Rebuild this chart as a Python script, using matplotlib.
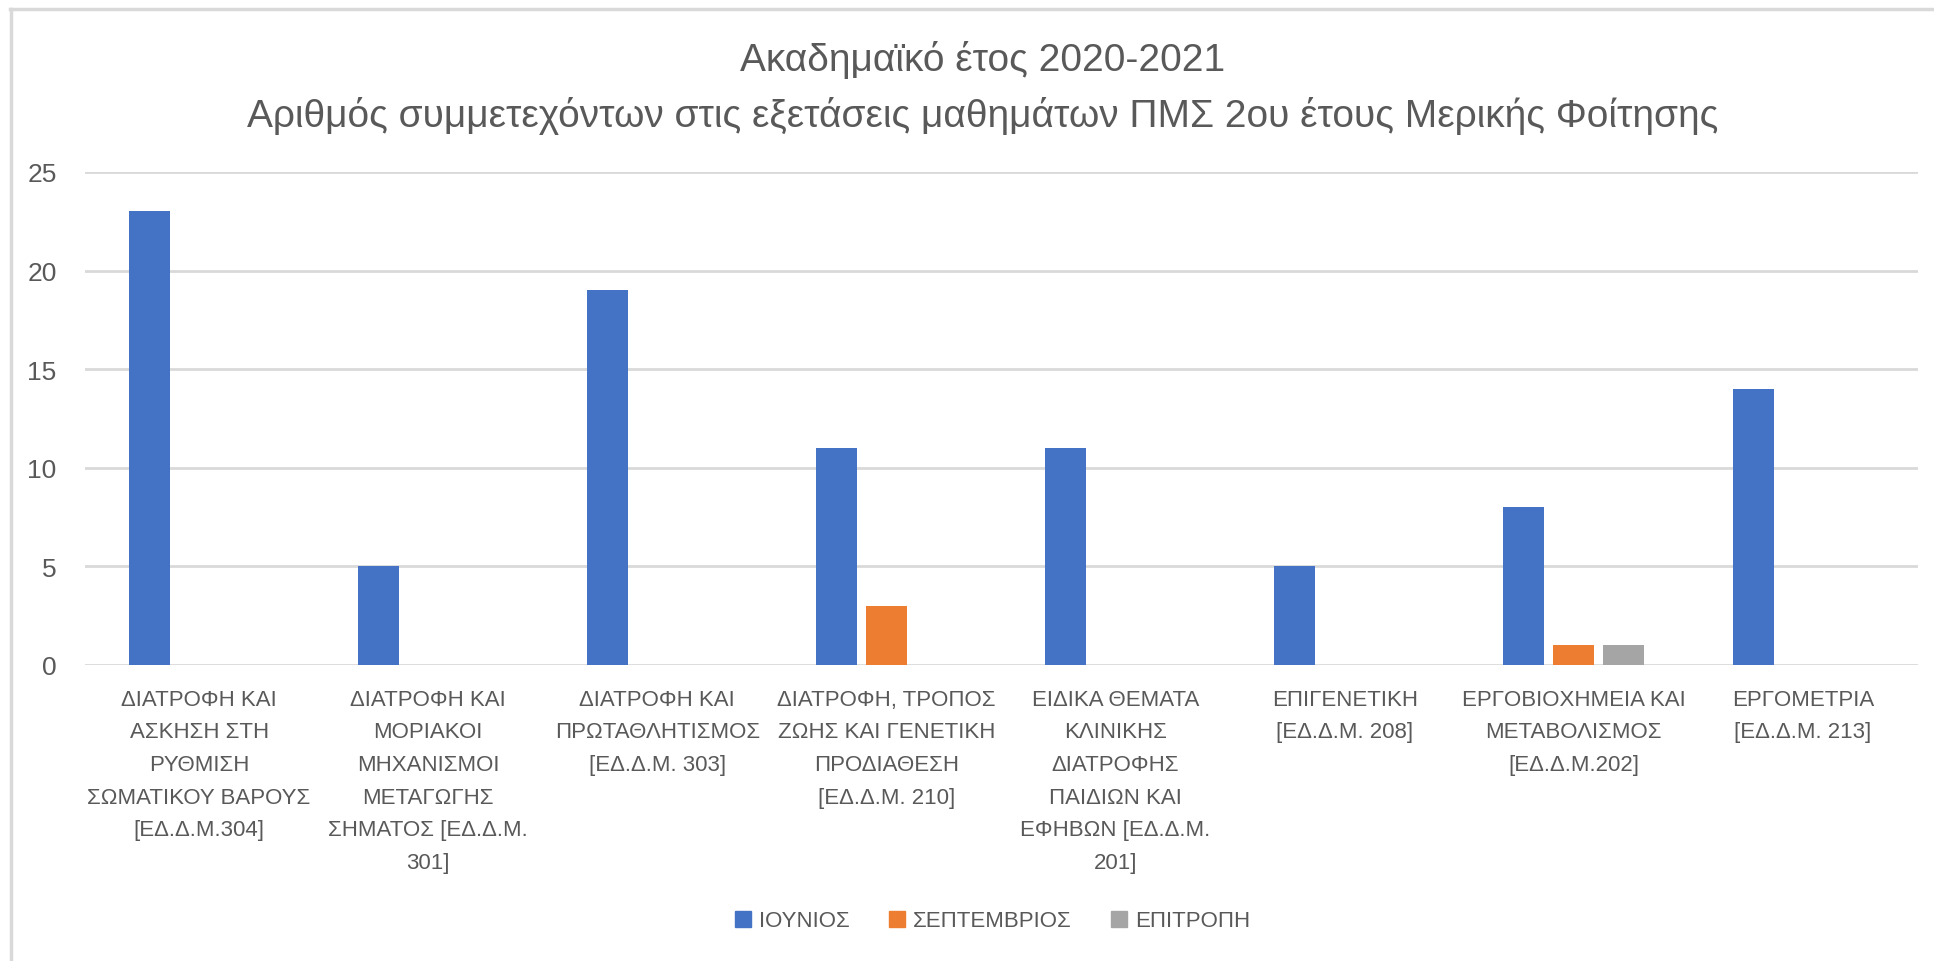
import matplotlib
matplotlib.use("Agg")
import matplotlib.pyplot as plt
from matplotlib.lines import Line2D
import numpy as np

plt.rcParams['font.family'] = ['Liberation Sans', 'DejaVu Sans']

title_lines = ["Ακαδημαϊκό έτος 2020-2021",
               "Αριθμός συμμετεχόντων στις εξετάσεις μαθημάτων ΠΜΣ 2ου έτους Μερικής Φοίτησης"]

courses = [
    "ΔΙΑΤΡΟΦΗ ΚΑΙ\nΑΣΚΗΣΗ ΣΤΗ\nΡΥΘΜΙΣΗ\nΣΩΜΑΤΙΚΟΥ ΒΑΡΟΥΣ\n[ΕΔ.Δ.Μ.304]",
    "ΔΙΑΤΡΟΦΗ ΚΑΙ\nΜΟΡΙΑΚΟΙ\nΜΗΧΑΝΙΣΜΟΙ\nΜΕΤΑΓΩΓΗΣ\nΣΗΜΑΤΟΣ [ΕΔ.Δ.Μ.\n301]",
    "ΔΙΑΤΡΟΦΗ ΚΑΙ\nΠΡΩΤΑΘΛΗΤΙΣΜΟΣ\n[ΕΔ.Δ.Μ. 303]",
    "ΔΙΑΤΡΟΦΗ, ΤΡΟΠΟΣ\nΖΩΗΣ ΚΑΙ ΓΕΝΕΤΙΚΗ\nΠΡΟΔΙΑΘΕΣΗ\n[ΕΔ.Δ.Μ. 210]",
    "ΕΙΔΙΚΑ ΘΕΜΑΤΑ\nΚΛΙΝΙΚΗΣ\nΔΙΑΤΡΟΦΗΣ\nΠΑΙΔΙΩΝ ΚΑΙ\nΕΦΗΒΩΝ [ΕΔ.Δ.Μ.\n201]",
    "ΕΠΙΓΕΝΕΤΙΚΗ\n[ΕΔ.Δ.Μ. 208]",
    "ΕΡΓΟΒΙΟΧΗΜΕΙΑ ΚΑΙ\nΜΕΤΑΒΟΛΙΣΜΟΣ\n[ΕΔ.Δ.Μ.202]",
    "ΕΡΓΟΜΕΤΡΙΑ\n[ΕΔ.Δ.Μ. 213]",
]

series_names = ["ΙΟΥΝΙΟΣ", "ΣΕΠΤΕΜΒΡΙΟΣ", "ΕΠΙΤΡΟΠΗ"]
june = [23, 5, 19, 11, 11, 5, 8, 14]
september = [0, 0, 0, 3, 0, 0, 1, 0]
committee = [0, 0, 0, 0, 0, 0, 1, 0]
yticks = [0, 5, 10, 15, 20, 25]

colors = ["#4472C4", "#ED7D31", "#A5A5A5"]
text_col = "#595959"
grid_col = "#D9D9D9"

fig = plt.figure(figsize=(19.34, 9.62), dpi=100)
ax = fig.add_axes([0.0437, 0.3077, 0.9478, 0.5125])

x = np.arange(len(courses))
bw = 0.179
off = 0.218
for i, (vals, c) in enumerate(zip([june, september, committee], colors)):
    ax.bar(x + (i - 1) * off, vals, width=bw, color=c, linewidth=0, zorder=3)

ax.set_xlim(-0.5, len(courses) - 0.5)
ax.set_ylim(0, 25)
ax.set_yticks(yticks)
ax.yaxis.grid(True, color=grid_col, linewidth=2, zorder=0)
ax.set_xticks(x)
ax.set_xticklabels(courses, fontsize=16, color=text_col, linespacing=1.73)
ax.tick_params(axis='x', length=0, pad=17)
ax.tick_params(axis='y', length=0, pad=20, labelsize=19, labelcolor=text_col)
for s in ax.spines.values():
    s.set_visible(False)

fig.text(0.508, 1 - 60 / 962, title_lines[0], ha='center', va='center', fontsize=28, color=text_col)
fig.text(0.508, 1 - 116 / 962, title_lines[1], ha='center', va='center', fontsize=28, color=text_col)

handles = [Line2D([], [], marker='s', linestyle='none', markersize=11, color=c) for c in colors]
fig.legend(handles, series_names, loc='center', bbox_to_anchor=(991 / 1934, 1 - 922 / 962),
           ncol=3, frameon=False, fontsize=16, labelcolor=text_col,
           handletextpad=0.25, columnspacing=1.6, handlelength=1.0)

# chart border (top and left edges visible)
fig.add_artist(Line2D([10 / 1934, 1], [1 - 10 / 962, 1 - 10 / 962], color=grid_col, linewidth=2.5))
fig.add_artist(Line2D([11 / 1934, 11 / 1934], [0, 1 - 10 / 962], color=grid_col, linewidth=2.5))

fig.savefig("out.png", dpi=100, facecolor='white')
